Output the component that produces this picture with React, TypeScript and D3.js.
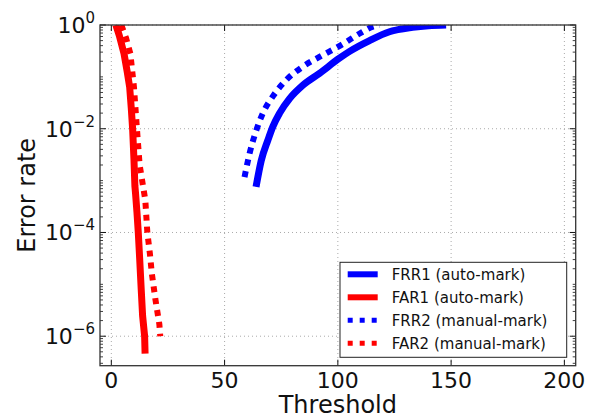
import React from "react";
import * as d3 from "d3";

// threshold / error-rate pairs
const far1X = [2, 3.5, 5.6, 7, 8.1, 8.8, 9.4, 10, 10.4, 10.7, 11.3, 11.9, 12.5, 13.2, 13.8, 14.7, 14.9];
const far1Y = [1, 0.63, 0.28, 0.126, 0.063, 0.025, 0.01, 2.5e-3, 7.9e-4, 5.6e-4, 2.5e-4, 1e-4, 3.2e-5, 7.9e-6, 2.5e-6, 1e-6, 4.6e-7];

const far2X = [4.4, 6.5, 8.4, 10, 11.3, 12.5, 15.0, 15.9, 17.0, 17.9, 19.5, 21.2, 21.6];
const far2Y = [1, 0.56, 0.28, 0.063, 0.01, 2e-3, 4.2e-4, 1e-4, 4e-5, 1.6e-5, 5e-6, 1.7e-6, 1e-6];

const frr1X = [63.9, 66.2, 69.1, 71.3, 74.3, 78.7, 84.6, 91.9, 100.7, 105.2, 114, 122.8, 133, 140, 147.8];
const frr1Y = [7.6e-4, 2.45e-3, 6e-3, 0.011, 0.02, 0.038, 0.069, 0.117, 0.229, 0.31, 0.5, 0.74, 0.9, 0.97, 1];

const frr2X = [58.8, 61, 64, 66.9, 71.3, 77.2, 84.6, 93.4, 102.2, 105.2, 110.5, 115.5, 118.4];
const frr2Y = [1.17e-3, 3.3e-3, 9.3e-3, 0.02, 0.042, 0.087, 0.158, 0.263, 0.43, 0.52, 0.72, 0.93, 1];

const xTicks = [0, 50, 100, 150, 200];
const yTickExp = [0, -2, -4, -6];
const legendLabels = ["FRR1 (auto-mark)", "FAR1 (auto-mark)", "FRR2 (manual-mark)", "FAR2 (manual-mark)"];

const W = 594, H = 418;
const L = 100, R = 575.7, T = 25, B = 365.7;
const font = "DejaVu Sans, sans-serif";
const ink = "#111";

export default function App() {
  const x = d3.scaleLinear().domain([-5, 205]).range([L, R]);
  const y = d3.scaleLog().domain([2.7e-7, 1]).range([B, T]);

  const line = d3.line<[number, number]>().x(d => x(d[0])).y(d => y(d[1])).curve(d3.curveMonotoneX);
  const step = d3.line<[number, number]>().x(d => x(d[0])).y(d => y(d[1]));
  const pts = (xs: number[], ys: number[]) => xs.map((v, i) => [v, ys[i]] as [number, number]);

  const series = [
    { d: pts(frr1X, frr1Y), color: "#0000ff", dash: null, gen: line },
    { d: pts(far1X, far1Y), color: "#ff0000", dash: null, gen: step },
    { d: pts(frr2X, frr2Y), color: "#0000ff", dash: "6 6", gen: line },
    { d: pts(far2X, far2Y), color: "#ff0000", dash: "6 6", gen: step },
  ];

  // minor ticks for log axis
  const minor: number[] = [];
  for (let e = -7; e <= 0; e++) {
    for (let k = 1; k <= 9; k++) {
      const v = k * Math.pow(10, e);
      if (k === 1 && e % 2 === 0) continue;
      if (v >= 2.7e-7 && v <= 1) minor.push(v);
    }
  }

  const legX = 340, legY = 262.3, legW = 226.7, legH = 95;

  return (
    <svg width={W} height={H} style={{ position: "absolute", left: 0, top: 0 }} fontFamily={font}>
      <defs>
        <clipPath id="plot">
          <rect x={L} y={T} width={R - L} height={B - T} />
        </clipPath>
      </defs>
      <rect x={0} y={0} width={W} height={H} fill="#fff" />

      {/* grid */}
      {xTicks.map(t => (
        <line key={"gx" + t} x1={x(t)} x2={x(t)} y1={T} y2={B} stroke="#aaa" strokeWidth={1} strokeDasharray="1 3" />
      ))}
      {yTickExp.map(e => (
        <line key={"gy" + e} x1={L} x2={R} y1={y(Math.pow(10, e))} y2={y(Math.pow(10, e))} stroke="#aaa" strokeWidth={1} strokeDasharray="1 3" />
      ))}

      {/* curves */}
      <g clipPath="url(#plot)">
        {series.map((s, i) => (
          <path key={i} d={s.gen(s.d) || ""} fill="none" stroke={s.color}
            strokeWidth={s.dash ? 6 : 7} strokeDasharray={s.dash || undefined}
            strokeLinejoin="round" strokeLinecap="butt" />
        ))}
      </g>

      {/* ticks */}
      {xTicks.map(t => (
        <g key={"tx" + t} stroke={ink} strokeWidth={1}>
          <line x1={x(t)} x2={x(t)} y1={B} y2={B - 6} />
          <line x1={x(t)} x2={x(t)} y1={T} y2={T + 6} />
        </g>
      ))}
      {yTickExp.map(e => (
        <g key={"ty" + e} stroke={ink} strokeWidth={1}>
          <line x1={L} x2={L + 6} y1={y(Math.pow(10, e))} y2={y(Math.pow(10, e))} />
          <line x1={R} x2={R - 6} y1={y(Math.pow(10, e))} y2={y(Math.pow(10, e))} />
        </g>
      ))}
      {minor.map((v, i) => (
        <g key={"m" + i} stroke={ink} strokeWidth={0.8}>
          <line x1={L} x2={L + 3} y1={y(v)} y2={y(v)} />
          <line x1={R} x2={R - 3} y1={y(v)} y2={y(v)} />
        </g>
      ))}

      {/* frame */}
      <rect x={L} y={T} width={R - L} height={B - T} fill="none" stroke="#333" strokeWidth={1.3} />

      {/* tick labels */}
      {xTicks.map(t => (
        <text key={"lx" + t} x={x(t)} y={388} textAnchor="middle" fontSize={22} fill={ink}>{t}</text>
      ))}
      {yTickExp.map(e => (
        <text key={"ly" + e} x={95} y={y(Math.pow(10, e)) + 8} textAnchor="end" fontSize={22} fill={ink}>
          10<tspan fontSize={15} dy={-10}>{e === 0 ? "0" : "\u2212" + Math.abs(e)}</tspan>
        </text>
      ))}

      {/* axis titles */}
      <text x={(L + R) / 2} y={413} textAnchor="middle" fontSize={24} fill={ink}>Threshold</text>
      <text transform={`translate(35,${(T + B) / 2}) rotate(-90)`} textAnchor="middle" fontSize={24} fill={ink}>Error rate</text>

      {/* legend */}
      <rect x={legX} y={legY} width={legW} height={legH} fill="#fff" stroke="#222" strokeWidth={1} />
      {legendLabels.map((lab, i) => {
        const cy = 274.3 + i * 23;
        const s = series[i];
        return (
          <g key={lab}>
            <line x1={347.7} x2={377.7} y1={cy} y2={cy} stroke={s.color}
              strokeWidth={s.dash ? 5 : 6} strokeDasharray={s.dash ? "5 7" : undefined} />
            <text x={391.7} y={cy + 5.5} fontSize={15} fill={ink}>{lab}</text>
          </g>
        );
      })}
    </svg>
  );
}
